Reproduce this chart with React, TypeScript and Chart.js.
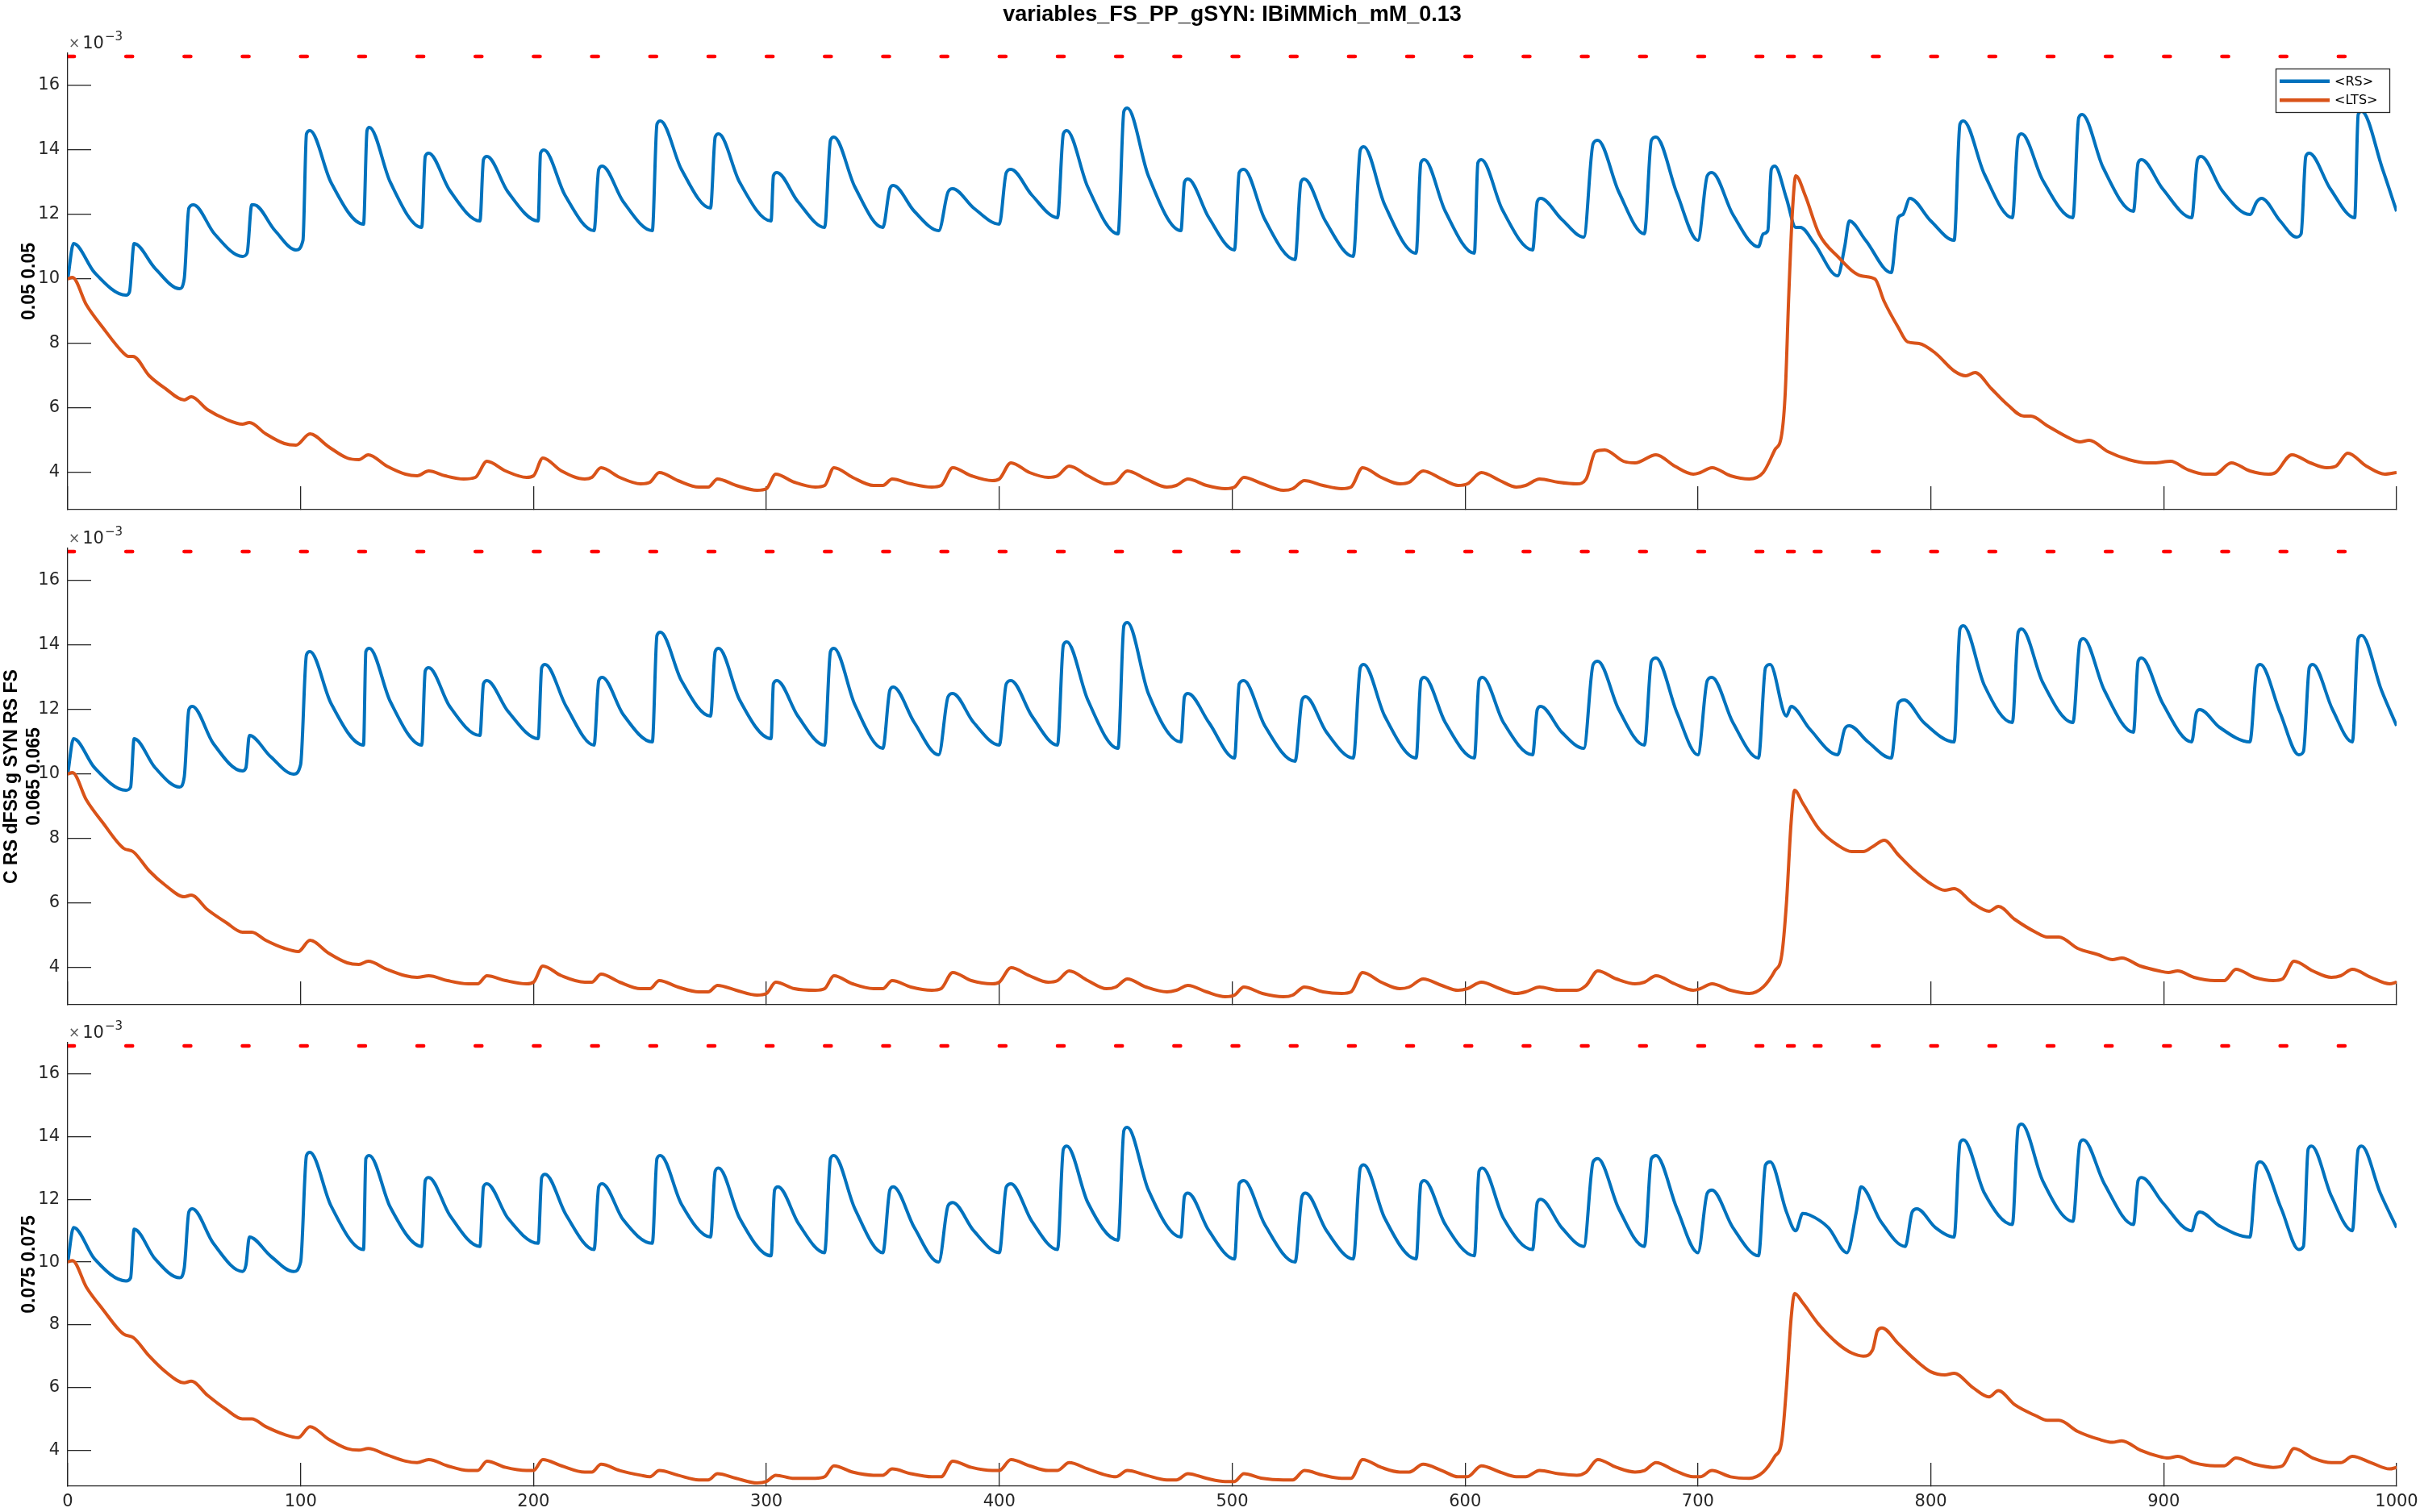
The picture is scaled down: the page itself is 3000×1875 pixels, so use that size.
import React, { useEffect, useRef } from 'react';
import { Chart, registerables } from 'chart.js';

Chart.register(...registerables);

const FONT = '"Liberation Sans", Arial, Helvetica, sans-serif';
const TICK_FONT = '"DejaVu Sans", "Liberation Sans", sans-serif';
const TITLE = 'variables_FS_PP_gSYN: IBiMMich_mM_0.13';
const SERIES = ['<RS>', '<LTS>'];
const X_TICKS = [0, 100, 200, 300, 400, 500, 600, 700, 800, 900, 1000];
const Y_TICKS = [4, 6, 8, 10, 12, 14, 16];
const Y_LABELS = [['0.05 0.05'], ['C RS dFS5 g SYN RS FS', '0.065 0.065'], ['0.075 0.075']];
const X_RANGE = [0, 1000];
const Y_RANGE = [2.85, 17];
const PULSE_LEVEL = 16.9;
const PULSE_LEN = 2.8;

const pulses1 = [0, 25, 50, 75, 100, 125, 150, 175, 200, 225, 250, 275, 300, 325, 350, 375, 400, 425, 450, 475, 500, 525, 550, 575, 600, 625, 650, 675, 700, 725, 738.5, 750, 775, 800, 825, 850, 875, 900, 925, 950, 975];
const pulses2 = [0, 25, 50, 75, 100, 125, 150, 175, 200, 225, 250, 275, 300, 325, 350, 375, 400, 425, 450, 475, 500, 525, 550, 575, 600, 625, 650, 675, 700, 725, 738.5, 750, 775, 800, 825, 850, 875, 900, 925, 950, 975];
const pulses3 = [0, 25, 50, 75, 100, 125, 150, 175, 200, 225, 250, 275, 300, 325, 350, 375, 400, 425, 450, 475, 500, 525, 550, 575, 600, 625, 650, 675, 700, 725, 738.5, 750, 775, 800, 825, 850, 875, 900, 925, 950, 975];

const rs1 = [[0,10.0],[2.5,11.1],[11.5,10.2],[25,9.5],[26.5,9.6],[28.5,11.1],[37.5,10.33],[48,9.7],[50,10.0],[52,12.2],[54,12.3],[63,11.4],[75,10.7],[77,10.8],[79,12.3],[80,12.3],[89,11.5],[98,10.9],[101,11.2],[102.5,14.5],[104,14.6],[113,13.0],[127,11.7],[128.5,14.6],[129.5,14.7],[138.5,13.0],[152,11.6],[153.5,13.8],[155,13.9],[164,12.75],[177,11.8],[178.5,13.7],[180,13.8],[189,12.7],[202,11.8],[203,13.9],[204.5,14.0],[213.5,12.6],[226,11.5],[228,13.4],[229.5,13.5],[238.5,12.4],[251,11.5],[253,14.8],[254.5,14.9],[263.5,13.4],[276,12.2],[278,14.4],[279.5,14.5],[288.5,13.0],[302,11.8],[303,13.2],[304.5,13.3],[313.5,12.4],[325,11.6],[327.5,14.3],[329,14.4],[338,12.85],[350,11.6],[353,12.8],[354.5,12.9],[363.5,12.1],[374,11.5],[378,12.7],[380,12.8],[389,12.2],[400,11.7],[403,13.3],[405,13.4],[414,12.6],[425,11.9],[427.5,14.5],[429,14.6],[438,12.85],[451,11.4],[453.5,15.2],[455,15.3],[464,13.2],[478,11.5],[479.5,13.0],[481,13.1],[490,11.9],[501,10.9],[503,13.3],[505,13.4],[514,11.85],[527,10.6],[529.5,13.0],[531,13.1],[540,11.8],[552,10.7],[555,14.0],[556.5,14.1],[565.5,12.3],[579,10.8],[581,13.6],[582.5,13.7],[591.5,12.1],[604,10.8],[605.5,13.6],[607,13.7],[616,12.15],[629,10.9],[631,12.4],[632.5,12.5],[641.5,11.85],[651,11.3],[655,14.2],[657,14.3],[666,12.7],[677,11.4],[680,14.3],[682,14.4],[691,12.65],[700,11.2],[704,13.2],[706,13.3],[715,12.0],[726,11.0],[728,11.4],[730,11.5],[731.5,13.4],[733,13.5],[738,12.5],[742,11.6],[744,11.6],[750,11.1],[760,10.1],[763,11.0],[765,11.8],[772,11.2],[783,10.2],[786,11.9],[788,12.0],[791,12.5],[800,11.8],[810,11.2],[812.5,14.8],[814,14.9],[823,13.25],[835,11.9],[837.5,14.4],[839,14.5],[848,13.07],[861,11.9],[863.5,15.0],[865,15.1],[874,13.45],[887,12.1],[889,13.6],[890.5,13.7],[899.5,12.8],[912,11.9],[914.5,13.7],[916,13.8],[925,12.75],[937,12.0],[940,12.4],[942,12.5],[950,11.8],[957,11.3],[959,11.4],[961,13.8],[962.5,13.9],[971.5,12.8],[982,11.9],[983.5,15.1],[985,15.2],[994,13.4],[1000,12.1]];

const lts1 = [[0,10.0],[2,10.05],[8,9.2],[15,8.5],[24,7.7],[26,7.6],[28,7.6],[35,7.0],[42,6.6],[50,6.25],[53,6.35],[60,5.95],[68,5.65],[75,5.5],[78,5.55],[85,5.2],[93,4.9],[98,4.85],[104,5.2],[112,4.8],[120,4.45],[125,4.4],[129,4.55],[137,4.2],[145,3.95],[150,3.9],[155,4.05],[162,3.9],[170,3.8],[175,3.85],[180,4.35],[188,4.05],[197,3.85],[200,3.9],[204,4.45],[212,4.05],[222,3.8],[225,3.85],[229,4.15],[237,3.85],[246,3.65],[250,3.7],[254,4.0],[262,3.75],[271,3.55],[275,3.55],[279,3.8],[287,3.6],[296,3.45],[300,3.5],[304,3.95],[312,3.7],[321,3.55],[325,3.6],[329,4.15],[337,3.85],[346,3.6],[350,3.6],[354,3.8],[362,3.65],[371,3.55],[375,3.6],[380,4.15],[388,3.9],[397,3.75],[400,3.8],[405,4.3],[413,4.0],[421,3.85],[425,3.9],[430,4.2],[438,3.9],[446,3.65],[450,3.7],[455,4.05],[463,3.8],[472,3.55],[476,3.6],[481,3.8],[489,3.6],[497,3.5],[501,3.55],[505,3.85],[513,3.65],[522,3.45],[526,3.5],[531,3.75],[539,3.6],[547,3.5],[551,3.55],[556,4.15],[564,3.85],[572,3.65],[576,3.7],[582,4.05],[590,3.8],[597,3.6],[601,3.65],[607,4.0],[615,3.75],[622,3.55],[626,3.6],[632,3.8],[640,3.7],[648,3.65],[652,3.8],[656,4.65],[660,4.7],[668,4.35],[673,4.3],[682,4.55],[690,4.2],[698,3.95],[701,4.0],[706,4.15],[714,3.9],[722,3.8],[728,4.0],[733,4.7],[736,5.2],[737.5,6.5],[739,9.5],[740.5,12.0],[742,13.2],[746,12.6],[752,11.4],[760,10.7],[770,10.1],[776,10.0],[780,9.3],[786,8.5],[790,8.05],[795,8.0],[802,7.7],[810,7.15],[815,7.0],[819,7.1],[826,6.6],[833,6.1],[840,5.75],[843,5.75],[850,5.45],[860,5.05],[864,4.95],[868,5.0],[876,4.65],[885,4.4],[893,4.3],[896,4.3],[903,4.35],[910,4.1],[918,3.95],[922,3.95],[929,4.3],[937,4.05],[945,3.95],[948,4.0],[955,4.55],[963,4.3],[970,4.15],[974,4.2],[979,4.6],[987,4.2],[995,3.95],[1000,4.0]];

const rs2 = [[0,10.0],[2.5,11.1],[11.5,10.2],[25,9.5],[27,9.6],[28.5,11.1],[37.5,10.2],[48,9.6],[50,9.9],[52,12.0],[53.5,12.1],[62.5,10.95],[75,10.1],[76.5,10.2],[78,11.2],[87,10.55],[97,10.0],[100,10.3],[102.5,13.7],[104,13.8],[113,12.2],[127,10.9],[128,13.8],[129.5,13.9],[138.5,12.25],[152,10.9],[153.5,13.2],[155,13.3],[164,12.1],[177,11.2],[178.5,12.8],[180,12.9],[189,11.95],[202,11.1],[203.5,13.3],[205,13.4],[214,12.1],[226,10.9],[228,12.9],[229.5,13.0],[238.5,11.85],[251,11.0],[253,14.3],[254.5,14.4],[263.5,12.9],[276,11.8],[278,13.8],[279.5,13.9],[288.5,12.3],[302,11.1],[303,12.8],[304.5,12.9],[313.5,11.8],[325,10.9],[327.5,13.8],[329,13.9],[338,12.15],[350,10.8],[353,12.6],[354.5,12.7],[363.5,11.6],[374,10.6],[378,12.4],[380,12.5],[389,11.6],[400,10.9],[403,12.8],[405,12.9],[414,11.8],[425,10.9],[427.5,14.0],[429,14.1],[438,12.3],[451,10.8],[453.5,14.6],[455,14.7],[464,12.5],[478,11.0],[479.5,12.4],[481,12.5],[490,11.6],[501,10.5],[503,12.8],[505,12.9],[514,11.5],[527,10.4],[530,12.3],[531.5,12.4],[540.5,11.3],[552,10.5],[555,13.3],[556.5,13.4],[565.5,11.8],[579,10.5],[581,12.9],[582.5,13.0],[591.5,11.6],[604,10.5],[606,12.9],[607.5,13.0],[616.5,11.6],[629,10.6],[631,12.0],[632.5,12.1],[641.5,11.3],[651,10.8],[655,13.4],[657,13.5],[666,12.0],[677,10.9],[680,13.5],[682,13.6],[691,11.9],[700,10.6],[704,12.9],[706,13.0],[715,11.6],[726,10.5],[729,13.3],[731,13.4],[738,11.8],[740,12.1],[748,11.4],[760,10.6],[763,11.4],[765,11.5],[773,11.0],[783,10.5],[786,12.2],[788.5,12.3],[797,11.6],[810,11.0],[812.5,14.5],[814,14.6],[823,12.75],[835,11.6],[837.5,14.4],[839,14.5],[848,12.85],[861,11.6],[864,14.1],[865.5,14.2],[874.5,12.6],[887,11.3],[889,13.5],[890.5,13.6],[899.5,12.2],[912,11.0],[914,11.9],[915.5,12.0],[924,11.45],[937,11.0],[940,13.3],[941.5,13.4],[950,11.9],[958,10.6],[960,10.7],[962.5,13.3],[964,13.4],[972.5,12.0],[981,11.0],[983.5,14.2],[985,14.3],[993.5,12.6],[1000,11.5]];

const lts2 = [[0,10.0],[2,10.05],[8,9.2],[15,8.5],[24,7.7],[28,7.6],[35,7.0],[42,6.55],[50,6.2],[53,6.25],[60,5.8],[68,5.4],[75,5.1],[79,5.1],[85,4.85],[93,4.6],[99,4.5],[104,4.85],[112,4.45],[120,4.15],[125,4.1],[129,4.2],[137,3.95],[145,3.75],[150,3.7],[155,3.75],[163,3.6],[172,3.5],[176,3.5],[180,3.75],[188,3.6],[197,3.5],[200,3.55],[204,4.05],[212,3.75],[222,3.55],[225,3.55],[229,3.8],[237,3.55],[246,3.35],[250,3.35],[254,3.6],[262,3.4],[271,3.25],[275,3.25],[279,3.45],[287,3.3],[296,3.15],[300,3.2],[304,3.55],[312,3.35],[321,3.3],[325,3.35],[329,3.75],[337,3.5],[346,3.35],[350,3.35],[354,3.6],[362,3.4],[371,3.3],[375,3.35],[380,3.85],[388,3.6],[397,3.5],[400,3.55],[405,4.0],[413,3.75],[421,3.55],[425,3.6],[430,3.9],[438,3.6],[446,3.35],[450,3.4],[455,3.65],[463,3.4],[472,3.25],[476,3.3],[481,3.45],[489,3.25],[497,3.1],[501,3.15],[505,3.4],[513,3.2],[522,3.1],[526,3.15],[531,3.4],[539,3.25],[547,3.2],[551,3.25],[556,3.85],[564,3.55],[572,3.35],[576,3.4],[582,3.65],[590,3.45],[597,3.3],[601,3.35],[607,3.55],[615,3.35],[622,3.2],[626,3.25],[632,3.4],[640,3.3],[648,3.3],[652,3.45],[657,3.9],[665,3.65],[673,3.5],[677,3.55],[682,3.75],[690,3.5],[698,3.3],[701,3.35],[706,3.5],[714,3.3],[722,3.2],[728,3.4],[733,3.9],[736,4.4],[738,6.0],[740,8.5],[741.5,9.5],[745,9.1],[752,8.3],[760,7.8],[766,7.6],[771,7.6],[775,7.75],[780,7.95],[786,7.5],[793,7.0],[800,6.6],[806,6.4],[810,6.45],[818,6.0],[825,5.75],[829,5.9],[836,5.5],[845,5.1],[850,4.95],[855,4.95],[863,4.6],[872,4.4],[878,4.25],[882,4.3],[890,4.05],[898,3.9],[902,3.85],[906,3.9],[913,3.7],[922,3.6],[926,3.6],[931,3.95],[939,3.7],[947,3.6],[951,3.65],[956,4.2],[964,3.9],[972,3.7],[976,3.75],[981,3.95],[989,3.7],[997,3.5],[1000,3.55]];

const rs3 = [[0,10.0],[2.5,11.1],[11.5,10.1],[25,9.4],[27,9.5],[28.5,11.05],[37.5,10.1],[48,9.5],[50,9.8],[52,11.6],[53.5,11.7],[62.5,10.6],[75,9.7],[76.5,9.9],[78,10.8],[87,10.2],[97,9.7],[100,10.0],[102.5,13.4],[104,13.5],[113,11.8],[127,10.4],[128,13.3],[129.5,13.4],[138.5,11.75],[152,10.5],[153.5,12.6],[155,12.7],[164,11.5],[177,10.5],[178.5,12.4],[180,12.5],[189,11.4],[202,10.6],[203.5,12.7],[205,12.8],[214,11.5],[226,10.4],[228,12.4],[229.5,12.5],[238.5,11.35],[251,10.6],[253,13.3],[254.5,13.4],[263.5,11.85],[276,10.8],[278,12.9],[279.5,13.0],[288.5,11.4],[302,10.2],[303.5,12.3],[305,12.4],[314,11.2],[325,10.3],[327.5,13.3],[329,13.4],[338,11.7],[350,10.3],[353,12.3],[354.5,12.4],[363.5,11.1],[374,10.0],[378,11.8],[380,11.9],[389,11.0],[400,10.3],[403,12.4],[405,12.5],[414,11.3],[425,10.4],[427.5,13.6],[429,13.7],[438,11.9],[451,10.7],[453.5,14.2],[455,14.3],[464,12.3],[478,10.8],[479.5,12.1],[481,12.2],[490,11.0],[501,10.1],[503,12.5],[505,12.6],[514,11.2],[527,10.0],[530,12.1],[531.5,12.2],[540.5,11.0],[552,10.1],[555,13.0],[556.5,13.1],[565.5,11.4],[579,10.1],[581,12.5],[582.5,12.6],[591.5,11.2],[604,10.2],[606,12.9],[607.5,13.0],[616.5,11.4],[629,10.4],[631,11.9],[632.5,12.0],[641.5,11.1],[651,10.5],[655,13.2],[657,13.3],[666,11.7],[677,10.5],[680,13.3],[682,13.4],[691,11.7],[700,10.3],[704,12.2],[706,12.3],[715,11.1],[726,10.2],[729,13.1],[731,13.2],[738,11.6],[742,11.0],[745,11.55],[748,11.5],[756,11.1],[764,10.3],[768,11.6],[770,12.4],[778.5,11.3],[789,10.5],[792,11.6],[794,11.7],[802,11.1],[810,10.8],[812.5,13.8],[814,13.9],[823,12.2],[835,11.2],[837.5,14.3],[839,14.4],[848,12.6],[861,11.3],[864,13.8],[865.5,13.9],[874.5,12.5],[887,11.2],[889,12.6],[890.5,12.7],[899.5,11.9],[912,11.0],[914,11.5],[915.5,11.6],[924,11.15],[937,10.8],[940,13.1],[941.5,13.2],[950.5,11.7],[958,10.4],[960,10.5],[962,13.6],[963.5,13.7],[972,12.1],[981,11.0],[983.5,13.6],[985,13.7],[993,12.2],[1000,11.1]];

const lts3 = [[0,10.0],[2,10.05],[8,9.2],[15,8.5],[24,7.7],[28,7.6],[35,7.0],[42,6.5],[50,6.15],[53,6.2],[60,5.75],[68,5.3],[75,5.0],[79,5.0],[85,4.75],[93,4.5],[99,4.4],[104,4.75],[112,4.35],[120,4.05],[125,4.0],[129,4.05],[137,3.85],[145,3.65],[150,3.6],[155,3.7],[163,3.5],[172,3.35],[176,3.35],[180,3.65],[188,3.45],[197,3.35],[200,3.35],[204,3.7],[212,3.5],[222,3.3],[225,3.3],[229,3.55],[237,3.35],[246,3.2],[250,3.15],[254,3.35],[262,3.2],[271,3.05],[275,3.05],[279,3.25],[287,3.1],[296,2.95],[300,3.0],[304,3.2],[312,3.1],[321,3.1],[325,3.15],[329,3.5],[337,3.3],[346,3.2],[350,3.2],[354,3.4],[362,3.25],[371,3.15],[375,3.15],[380,3.65],[388,3.45],[397,3.35],[400,3.35],[405,3.7],[413,3.5],[421,3.35],[425,3.35],[430,3.6],[438,3.4],[446,3.2],[450,3.15],[455,3.35],[463,3.2],[472,3.05],[476,3.05],[481,3.25],[489,3.1],[497,3.0],[501,3.0],[505,3.25],[513,3.1],[522,3.05],[526,3.05],[531,3.35],[539,3.2],[547,3.1],[551,3.1],[556,3.7],[564,3.45],[572,3.3],[576,3.3],[582,3.55],[590,3.35],[597,3.15],[601,3.15],[607,3.5],[615,3.3],[622,3.15],[626,3.15],[632,3.35],[640,3.25],[648,3.2],[652,3.3],[657,3.7],[665,3.45],[673,3.3],[677,3.35],[682,3.6],[690,3.35],[698,3.15],[701,3.15],[706,3.35],[714,3.15],[722,3.1],[728,3.3],[733,3.8],[736,4.3],[738,6.0],[740,8.2],[741.5,9.0],[745,8.7],[752,8.0],[760,7.4],[766,7.1],[771,7.0],[775,7.2],[777,7.8],[779,7.9],[786,7.4],[793,6.9],[800,6.5],[806,6.4],[810,6.45],[818,6.0],[825,5.7],[829,5.9],[836,5.45],[845,5.1],[850,4.95],[855,4.95],[863,4.6],[872,4.35],[878,4.25],[882,4.3],[890,4.0],[898,3.8],[902,3.75],[906,3.8],[913,3.6],[922,3.5],[926,3.5],[931,3.75],[939,3.55],[947,3.45],[951,3.5],[956,4.05],[964,3.75],[972,3.6],[976,3.6],[981,3.8],[989,3.6],[997,3.4],[1000,3.45]];

const PANEL_DATA = [
  { rs: rs1, lts: lts1, pulses: pulses1 },
  { rs: rs2, lts: lts2, pulses: pulses2 },
  { rs: rs3, lts: lts3, pulses: pulses3 },
];

// layout (pixels)
const W = 3000;
const H = 1875;
const PLOT_LEFT = 84;
const PLOT_RIGHT = 2971;
const XAXIS_H = 30;
const PANELS = [
  { top: 66, bottom: 632, labelPad: 23 },
  { top: 680, bottom: 1246, labelPad: 1.2 },
  { top: 1293, bottom: 1843, labelPad: 23 },
];
const BLUE = '#0072BD';
const ORANGE = '#D95319';
const RED = '#FF0000';
const AXIS = '#262626';

function toXY(arr: number[][]) {
  return arr.map(([x, y]) => ({ x, y }));
}

function pulseXY(starts: number[]) {
  const out: { x: number; y: number | null }[] = [];
  starts.forEach((s) => {
    out.push({ x: s, y: PULSE_LEVEL });
    out.push({ x: s + PULSE_LEN, y: PULSE_LEVEL });
    out.push({ x: s + PULSE_LEN, y: null });
  });
  return out;
}

function overlayPlugin(idx: number) {
  return {
    id: 'overlay' + idx,
    afterDraw(chart: any) {
      const { ctx, chartArea } = chart;
      ctx.save();
      ctx.textAlign = 'left';
      ctx.textBaseline = 'alphabetic';
      const yb = chartArea.top - 6;
      let x = chartArea.left + 1;
      ctx.fillStyle = '#5a5a5a';
      ctx.font = `17px ${TICK_FONT}`;
      ctx.fillText('\u00d7', x, yb - 1);
      x += ctx.measureText('\u00d7').width + 3;
      ctx.fillStyle = AXIS;
      ctx.font = `21px ${TICK_FONT}`;
      ctx.fillText('10', x, yb);
      x += ctx.measureText('10').width + 1;
      ctx.font = `15px ${TICK_FONT}`;
      ctx.fillText('\u22123', x, yb - 10);

      if (idx === 0) {
        ctx.fillStyle = '#000';
        ctx.font = `bold 27px ${FONT}`;
        ctx.textAlign = 'center';
        ctx.fillText(TITLE, (chartArea.left + chartArea.right) / 2, 26);

        const bx = chartArea.right - 150;
        const by = chartArea.top + 19;
        const bw = 141;
        const bh = 54;
        ctx.fillStyle = '#fff';
        ctx.fillRect(bx, by, bw, bh);
        ctx.strokeStyle = AXIS;
        ctx.lineWidth = 1.3;
        ctx.strokeRect(bx + 0.5, by + 0.5, bw, bh);
        const colors = [BLUE, ORANGE];
        const rows = [by + 15.7, by + 39.3];
        ctx.font = `16px ${TICK_FONT}`;
        ctx.textAlign = 'left';
        ctx.textBaseline = 'middle';
        SERIES.forEach((name, i) => {
          ctx.strokeStyle = colors[i];
          ctx.lineWidth = 4.5;
          ctx.beginPath();
          ctx.moveTo(bx + 5, rows[i]);
          ctx.lineTo(bx + 67, rows[i]);
          ctx.stroke();
          ctx.fillStyle = '#000';
          ctx.fillText(name, bx + 73, rows[i] + 1);
        });
      }
      ctx.restore();
    },
  };
}

function makeConfig(idx: number): any {
  const p = PANELS[idx];
  const d = PANEL_DATA[idx];
  const isLast = idx === PANELS.length - 1;
  return {
    type: 'line',
    data: {
      datasets: [
        { label: SERIES[0], data: toXY(d.rs), borderColor: BLUE, borderWidth: 4, pointRadius: 0, cubicInterpolationMode: 'monotone', order: 1 },
        { label: SERIES[1], data: toXY(d.lts), borderColor: ORANGE, borderWidth: 4, pointRadius: 0, cubicInterpolationMode: 'monotone', order: 0 },
        { label: 'pulses', data: pulseXY(d.pulses), borderColor: RED, borderWidth: 4.5, borderCapStyle: 'round', pointRadius: 0, spanGaps: false, order: 2 },
      ],
    },
    options: {
      animation: false,
      responsive: false,
      maintainAspectRatio: false,
      devicePixelRatio: 1,
      events: [],
      layout: {
        padding: { left: 0, right: W - PLOT_RIGHT, top: p.top, bottom: H - p.bottom - XAXIS_H },
      },
      plugins: {
        legend: { display: false },
        tooltip: { enabled: false },
        title: { display: false },
      },
      scales: {
        x: {
          type: 'linear',
          min: X_RANGE[0],
          max: X_RANGE[1],
          afterBuildTicks: (s: any) => {
            s.ticks = X_TICKS.map((v) => ({ value: v }));
          },
          afterFit: (s: any) => {
            s.height = XAXIS_H;
            s.paddingLeft = 0;
            s.paddingRight = 0;
          },
          grid: { drawOnChartArea: false, drawTicks: true, tickLength: -29, color: AXIS, lineWidth: 1.3 },
          border: { display: true, color: AXIS, width: 1.3 },
          ticks: {
            display: isLast,
            autoSkip: false,
            maxRotation: 0,
            padding: 36.4,
            color: AXIS,
            font: { family: TICK_FONT, size: 21 },
            callback: (v: any) => String(v),
          },
        },
        y: {
          type: 'linear',
          min: Y_RANGE[0],
          max: Y_RANGE[1],
          afterBuildTicks: (s: any) => {
            s.ticks = Y_TICKS.map((v) => ({ value: v }));
          },
          afterFit: (s: any) => {
            s.width = PLOT_LEFT;
            s.paddingTop = 0;
            s.paddingBottom = 0;
          },
          grid: { drawOnChartArea: false, drawTicks: true, tickLength: -29, color: AXIS, lineWidth: 1.3 },
          border: { display: true, color: AXIS, width: 1.3 },
          ticks: {
            autoSkip: false,
            padding: 39,
            color: AXIS,
            font: { family: TICK_FONT, size: 21 },
            callback: (v: any) => String(v),
          },
          title: {
            display: true,
            text: Y_LABELS[idx],
            color: '#000',
            font: { family: FONT, size: 23, weight: 'bold' },
            padding: { top: p.labelPad, bottom: 0 },
          },
        },
      },
    },
    plugins: [overlayPlugin(idx)],
  };
}

function Panel({ idx }: { idx: number }) {
  const ref = useRef<HTMLCanvasElement | null>(null);
  useEffect(() => {
    if (!ref.current) return;
    const chart = new Chart(ref.current, makeConfig(idx));
    return () => chart.destroy();
  }, [idx]);
  return (
    <canvas
      ref={ref}
      width={W}
      height={H}
      style={{ position: 'absolute', left: 0, top: 0, width: W, height: H }}
    />
  );
}

export default function App() {
  return (
    <div style={{ position: 'absolute', left: 0, top: 0, width: W, height: H, background: '#fff', overflow: 'hidden' }}>
      {PANELS.map((_, i) => (
        <Panel key={i} idx={i} />
      ))}
    </div>
  );
}
